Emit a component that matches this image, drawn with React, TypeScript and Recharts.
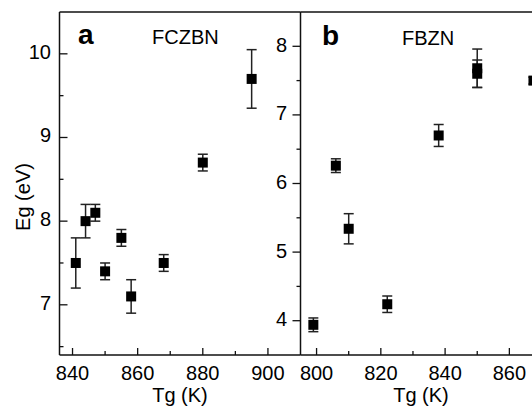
import React from "react";
import { ScatterChart, Scatter, XAxis, YAxis, ErrorBar } from "recharts";

// panel a: FCZBN
const tgA = [841, 844, 847, 850, 855, 858, 868, 880, 895];
const egA = [7.5, 8.0, 8.1, 7.4, 7.8, 7.1, 7.5, 8.7, 9.7];
const errA = [0.3, 0.2, 0.1, 0.1, 0.1, 0.2, 0.1, 0.1, 0.35];

// panel b: FBZN
const tgB = [799, 806, 810, 822, 838, 850, 850, 867.5];
const egB = [3.94, 6.26, 5.34, 4.24, 6.7, 7.68, 7.6, 7.5];
const errB = [0.1, 0.1, 0.22, 0.12, 0.16, 0.28, 0.2, 0.05];

const xTicksA = [840, 850, 860, 870, 880, 890, 900];
const xLabelsA = [840, 860, 880, 900];
const yTicksA = [6.5, 7, 7.5, 8, 8.5, 9, 9.5, 10];
const yLabelsA = [7, 8, 9, 10];

const xTicksB = [800, 810, 820, 830, 840, 850, 860, 870];
const xLabelsB = [800, 820, 840, 860];
const yTicksB = [4, 4.5, 5, 5.5, 6, 6.5, 7, 7.5, 8];
const yLabelsB = [4, 5, 6, 7, 8];

const FONT = "Arial, 'Liberation Sans', sans-serif";
const INK = "#111";

const dataA = tgA.map((t, i) => ({ tg: t, eg: egA[i], err: errA[i] }));
const dataB = tgB.map((t, i) => ({ tg: t, eg: egB[i], err: errB[i] }));

function FrameTick(props: any) {
  const { x = 0, y = 0, payload, side, labels } = props;
  const v = payload.value;
  const isMajor = labels.includes(v);
  const txt = { fontFamily: FONT, fontSize: 20, fill: "#000" };
  if (side === "bottom") {
    const len = isMajor ? 7 : 4;
    return (
      <g>
        <line x1={x} y1={y} x2={x} y2={y - len} stroke={INK} strokeWidth={1.3} />
        {isMajor && (
          <text x={x} y={y + 25} textAnchor="middle" {...txt}>
            {v}
          </text>
        )}
      </g>
    );
  }
  if (side === "top") {
    return <line x1={x} y1={y} x2={x} y2={y + 3} stroke={INK} strokeWidth={1.3} />;
  }
  if (side === "leftIn") {
    const len = isMajor ? 8 : 4;
    return (
      <g>
        <line x1={x} y1={y} x2={x + len} y2={y} stroke={INK} strokeWidth={1.3} />
        {isMajor && (
          <text x={x - 8.5} y={y + 5} textAnchor="end" {...txt}>
            {v}
          </text>
        )}
      </g>
    );
  }
  // leftOut
  const len = isMajor ? 8 : 4;
  return (
    <g>
      <line x1={x} y1={y} x2={x - len} y2={y} stroke={INK} strokeWidth={1.3} />
      {isMajor && (
        <text x={x - 13.5} y={y + 5.4} textAnchor="end" {...txt}>
          {v}
        </text>
      )}
    </g>
  );
}

const Square = (p: any) => <rect x={p.cx - 5} y={p.cy - 5} width={10} height={10} fill="#000" />;

const axisLine = { stroke: INK, strokeWidth: 1.5 };

export default function App() {
  return (
    <div
      style={{
        position: "absolute",
        left: 0,
        top: 0,
        width: 532,
        height: 410,
        overflow: "hidden",
        background: "#fff",
      }}
    >
      <div style={{ position: "absolute", left: 0, top: 0 }}>
        <ScatterChart width={301} height={410} margin={{ top: 0, right: 0.5, bottom: 0, left: 0 }}>
          <XAxis
            dataKey="tg"
            type="number"
            domain={[836, 910]}
            allowDataOverflow
            ticks={xTicksA}
            interval={0}
            height={55}
            tickSize={0}
            tickMargin={0}
            axisLine={axisLine}
            tickLine={false}
            tick={<FrameTick side="bottom" labels={xLabelsA} />}
          />
          <XAxis
            xAxisId="top"
            orientation="top"
            type="number"
            domain={[836, 910]}
            allowDataOverflow
            ticks={xTicksA}
            interval={0}
            height={12}
            tickSize={0}
            tickMargin={0}
            axisLine={axisLine}
            tickLine={false}
            tick={<FrameTick side="top" labels={[]} />}
          />
          <YAxis
            dataKey="eg"
            type="number"
            domain={[6.4, 10.5]}
            allowDataOverflow
            ticks={yTicksA}
            interval={0}
            width={59.5}
            tickSize={0}
            tickMargin={0}
            axisLine={axisLine}
            tickLine={false}
            tick={<FrameTick side="leftIn" labels={yLabelsA} />}
          />
          <Scatter data={dataA} shape={Square} isAnimationActive={false}>
            <ErrorBar dataKey="err" direction="y" width={5} stroke="#222" strokeWidth={1.5} isAnimationActive={false} />
          </Scatter>
          <text x={78} y={44} fontFamily={FONT} fontSize={28} fontWeight="bold" fill="#000">
            a
          </text>
          <text x={152} y={44} fontFamily={FONT} fontSize={20} fill="#000">
            FCZBN
          </text>
          <text x={180} y={402} textAnchor="middle" fontFamily={FONT} fontSize={20} fill="#000">
            Tg (K)
          </text>
          <text
            x={29.5}
            y={197}
            transform="rotate(-90, 29.5, 197)"
            textAnchor="middle"
            fontFamily={FONT}
            fontSize={20}
            fill="#000"
          >
            Eg (eV)
          </text>
        </ScatterChart>
      </div>
      <div style={{ position: "absolute", left: 240, top: 0 }}>
        <ScatterChart width={302} height={410} margin={{ top: 0, right: 0.5, bottom: 0, left: 0 }}>
          <XAxis
            dataKey="tg"
            type="number"
            domain={[795, 870]}
            allowDataOverflow
            ticks={xTicksB}
            interval={0}
            height={55}
            tickSize={0}
            tickMargin={0}
            axisLine={axisLine}
            tickLine={false}
            tick={<FrameTick side="bottom" labels={xLabelsB} />}
          />
          <XAxis
            xAxisId="top"
            orientation="top"
            type="number"
            domain={[795, 870]}
            allowDataOverflow
            ticks={xTicksB}
            interval={0}
            height={12}
            tickSize={0}
            tickMargin={0}
            axisLine={axisLine}
            tickLine={false}
            tick={<FrameTick side="top" labels={[]} />}
          />
          <YAxis
            dataKey="eg"
            type="number"
            domain={[3.5, 8.5]}
            allowDataOverflow
            ticks={yTicksB}
            interval={0}
            width={60.5}
            tickSize={0}
            tickMargin={0}
            axisLine={axisLine}
            tickLine={false}
            tick={<FrameTick side="leftOut" labels={yLabelsB} />}
          />
          <Scatter data={dataB} shape={Square} isAnimationActive={false}>
            <ErrorBar dataKey="err" direction="y" width={5} stroke="#222" strokeWidth={1.5} isAnimationActive={false} />
          </Scatter>
          <text x={82} y={45} fontFamily={FONT} fontSize={28} fontWeight="bold" fill="#000">
            b
          </text>
          <text x={162} y={45} fontFamily={FONT} fontSize={20} fill="#000">
            FBZN
          </text>
          <text x={181} y={402} textAnchor="middle" fontFamily={FONT} fontSize={20} fill="#000">
            Tg (K)
          </text>
        </ScatterChart>
      </div>
    </div>
  );
}
